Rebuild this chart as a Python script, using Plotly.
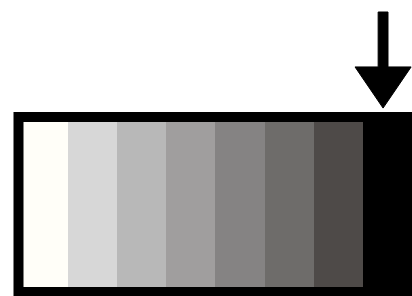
import plotly.graph_objects as go

# Data
categories = [0, 1, 2, 3, 4, 5, 6, 7]
segment_values = [1, 1, 1, 1, 1, 1, 1, 1]
segment_colors = ["#FFFEF8", "#D7D7D7", "#B8B8B8", "#A09E9E",
                  "#858383", "#6E6C6A", "#4E4A48", "#000000"]
highlight_index = 7

fig = go.Figure()
fig.add_trace(go.Bar(
    x=categories, y=segment_values, width=1,
    marker=dict(color=segment_colors, line=dict(width=0)),
    hoverinfo="skip", showlegend=False,
))

n = len(categories)
# outer border
fig.add_shape(type="rect", x0=-0.5, x1=n - 0.5, y0=0, y1=max(segment_values),
              line=dict(color="black", width=10), fillcolor="rgba(0,0,0,0)",
              layer="above")

# arrow pointing at highlighted segment
cx = highlight_index - 0.09
sw = 0.1      # half shaft width (x units)
hw = 0.57     # half head width (x units)
top = 1.6
head_top = 1.286
tip = 1.051
path = (f"M {cx - sw},{top} L {cx + sw},{top} L {cx + sw},{head_top} "
        f"L {cx + hw},{head_top} L {cx},{tip} L {cx - hw},{head_top} "
        f"L {cx - sw},{head_top} Z")
fig.add_shape(type="path", path=path, fillcolor="black",
              line=dict(color="black", width=1), layer="above")

fig.update_layout(
    width=412, height=296,
    margin=dict(l=0, r=0, t=0, b=0),
    paper_bgcolor="white", plot_bgcolor="white",
    bargap=0,
    xaxis=dict(range=[-0.876, 7.498], visible=False, fixedrange=True),
    yaxis=dict(range=[-0.0229, 1.6686], visible=False, fixedrange=True),
)

fig.write_html(
    "out.html",
    config={"displayModeBar": False},
    post_script="document.body.style.margin='0px';"
                "document.body.style.overflow='hidden';",
)
